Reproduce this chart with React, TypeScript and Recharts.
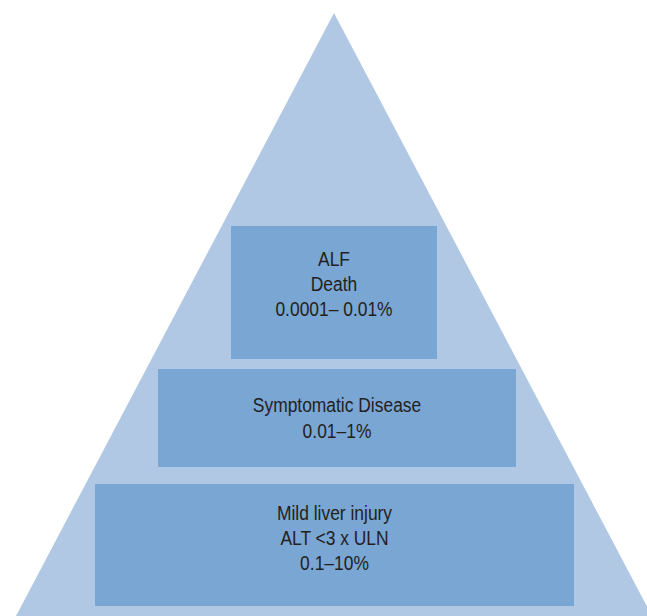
import React from "react";
import { ComposedChart, Area, XAxis, YAxis, ReferenceArea } from "recharts";

// Pyramid outline (x in chart units, height in chart units from the base)
const pyramidX = [16, 334, 652];
const pyramidY = [0, 603, 0];

// Tiers, top to bottom
const tierLines = [
  ["ALF", "Death", "0.0001\u2013 0.01%"],
  ["Symptomatic Disease", "0.01\u20131%"],
  ["Mild liver injury", "ALT <3 x ULN", "0.1\u201310%"],
];
const tierXFrom = [231, 158, 95];
const tierXTo = [437, 516, 574];
const tierYFrom = [257, 149, 10];
const tierYTo = [390, 247, 132];

const W = 647;
const H = 616;
const LINE_H = 25.3;
const BASELINE_SHIFT = [-1.5, 7, 0];
const NARROW = 0.83;

const pyramidData = pyramidX.map((x, i) => ({ x, y: pyramidY[i] }));

const makeLabel = (lines: string[], shift: number) => (props: any) => {
  const vb = props.viewBox || {};
  const cx = vb.x + vb.width / 2;
  const cy = vb.y + vb.height / 2;
  const n = lines.length;
  return (
    <g transform={`translate(${cx},0) scale(${NARROW},1)`}>
      {lines.map((t, i) => (
        <text
          key={i}
          x={0}
          y={cy + shift + (i - (n - 1) / 2) * LINE_H}
          textAnchor="middle"
          fill="#231f20"
          fontSize={21}
          fontFamily="'Liberation Sans Narrow', 'Arial Narrow', 'Liberation Sans', Arial, sans-serif"
        >
          {t}
        </text>
      ))}
    </g>
  );
};

export default function App() {
  return (
    <div style={{ position: "absolute", left: 0, top: 0, width: W, height: H, background: "#fff" }}>
      <ComposedChart
        width={W}
        height={H}
        data={pyramidData}
        margin={{ top: 0, right: 0, bottom: 0, left: 0 }}
      >
        <XAxis type="number" dataKey="x" domain={[0, W]} allowDataOverflow hide />
        <YAxis type="number" domain={[0, H]} allowDataOverflow hide />
        <Area
          type="linear"
          dataKey="y"
          stroke="none"
          fill="#b1c8e4"
          fillOpacity={1}
          isAnimationActive={false}
          dot={false}
          activeDot={false}
        />
        {tierLines.map((lines, i) => (
          <ReferenceArea
            key={i}
            x1={tierXFrom[i]}
            x2={tierXTo[i]}
            y1={tierYFrom[i]}
            y2={tierYTo[i]}
            fill="#7aa6d3"
            fillOpacity={1}
            stroke="none"
            ifOverflow="visible"
            label={makeLabel(lines, BASELINE_SHIFT[i])}
          />
        ))}
      </ComposedChart>
    </div>
  );
}
